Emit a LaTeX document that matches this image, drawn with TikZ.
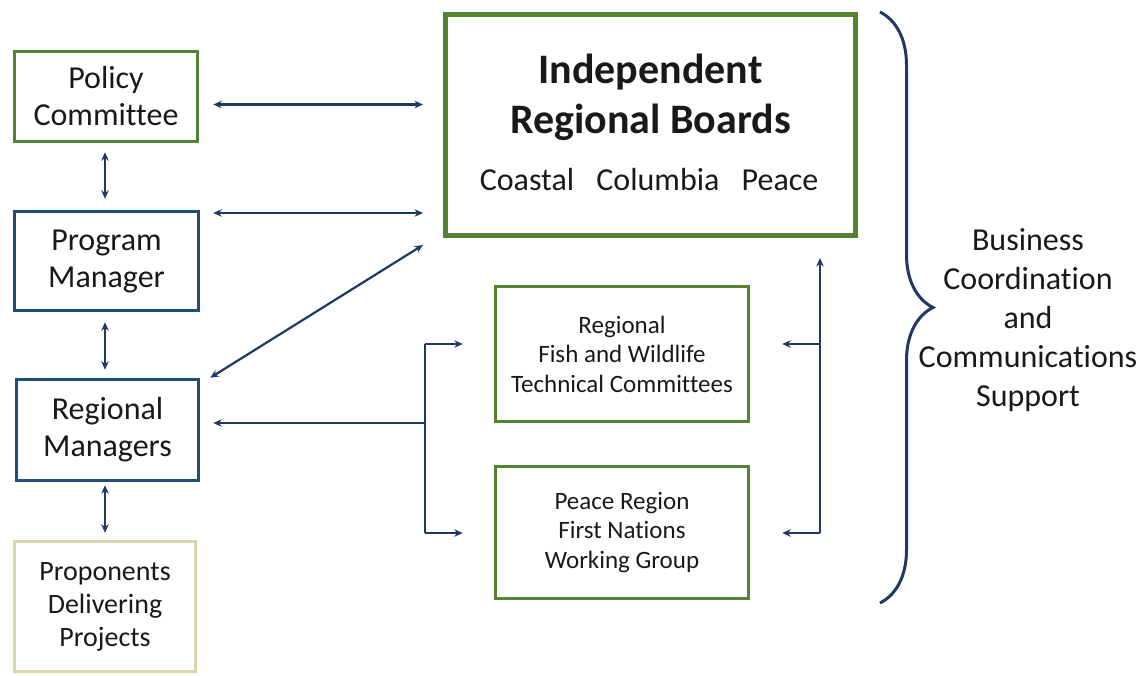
\documentclass[tikz,border=0pt]{standalone}
\usepackage{fontspec}
\setmainfont{Carlito}[Ligatures={NoCommon}]
\usetikzlibrary{arrows.meta,calc,decorations.pathreplacing}
\definecolor{boardgreen}{RGB}{84,130,53}
\definecolor{mgrblue}{RGB}{31,78,121}
\definecolor{linkblue}{RGB}{31,56,100}
\definecolor{khaki}{RGB}{218,215,172}
\begin{document}
\begin{tikzpicture}[x=1pt,y=-1pt,
  >={Stealth[length=8.5pt,width=7.5pt]},
  box/.style={draw, rectangle, align=center, inner sep=0pt, text=black!90},
  greenbox/.style={box, draw=boardgreen, line width=3.5pt},
  bluebox/.style={box, draw=mgrblue, line width=3.5pt},
  palebox/.style={box, draw=khaki, line width=3.5pt},
  bigtxt/.style={font=\fontsize{32}{37}\selectfont},
  midtxt/.style={font=\fontsize{28}{33}\selectfont},
  smalltxt/.style={font=\fontsize{25}{29.5}\selectfont},
  link/.style={draw=linkblue, line width=2.2pt},
]
\useasboundingbox (0,0) rectangle (1143,675);

% left column
\node[greenbox, bigtxt, minimum width=183, minimum height=90] (pc) at (106,96.5) {Policy\\Committee};
\node[bluebox, bigtxt, minimum width=184, minimum height=99] (pm) at (106.5,261) {Program\\Manager};
\node[bluebox, bigtxt, minimum width=182, minimum height=101] (rm) at (107.5,430) {Regional\\Managers};
\node[palebox, midtxt, minimum width=181, minimum height=130] (pp) at (105,606.5) {Proponents\\Delivering\\Projects};

% boards
\node[draw=boardgreen, line width=5pt, rectangle, minimum width=410, minimum height=221, inner sep=0pt] (irb) at (650.5,125) {};
\node[font=\fontsize{42}{50}\selectfont\bfseries, align=center, text=black!90] (irbt) at (650.5,97) {Independent\\Regional Boards};
\node[bigtxt, text=black!90] (c1) at (527,180) {Coastal};
\node[bigtxt, text=black!90] (c2) at (658,180) {Columbia};
\node[bigtxt, text=black!90] (c3) at (780,180) {Peace};

% committees
\node[greenbox, smalltxt, minimum width=253, minimum height=135] (fw) at (622,354) {Regional\\Fish and Wildlife\\Technical Committees};
\node[greenbox, smalltxt, minimum width=253, minimum height=132] (fn) at (622,532.5) {Peace Region\\First Nations\\Working Group};

% support brace and label
\coordinate (bt) at (880,12);
\coordinate (bb) at (880,603);
\draw[linkblue, line width=3pt, decorate, decoration={brace, amplitude=53pt}] (bt) -- (bb);
\node[align=center, text=black!90, font=\fontsize{32}{38.8}\selectfont] (bus) at (1028,320) {Business\\Coordination\\and\\Communications\\Support};

% left column links
\coordinate (a1) at ($(pc.east)+(14,8)$);
\draw[link, <->] (a1) -- ($(irb.west |- a1)+(-20,0)$);
\coordinate (a2) at ($(pm.east)+(13,-48)$);
\draw[link, <->] (a2) -- ($(irb.west |- a2)+(-20,0)$);
\draw[link, <->] ($(pc.south)+(-1,9)$) -- ($(pm.north)+(-1.5,-11)$);
\draw[link, <->] ($(pm.south)+(-1.5,10)$) -- ($(rm.north)+(-2.5,-8)$);
\draw[link, <->] ($(rm.south)+(-2.5,3)$) -- ($(pp.north)+(0,-7)$);
\draw[link, <->] ($(rm.north east)+(10,0)$) -- ($(irb.south west)+(-20,7)$);

% committee links, left side
\coordinate (j1) at (425,344);
\coordinate (j2) at (425,533);
\coordinate (j3) at (425,423);
\draw[link] (j1) -- (j2);
\draw[link, ->] (j1) -- ($(fw.west |- j1)+(-31,0)$);
\draw[link, ->] (j2) -- ($(fn.west |- j2)+(-31,0)$);
\draw[link, ->] (j3) -- ($(rm.east |- j3)+(13,0)$);

% committee links, right side
\coordinate (k1) at (820,344);
\coordinate (k2) at (820,533);
\draw[link, ->] (k2) -- ($(irb.south -| k2)+(0,20)$);
\draw[link, ->] (k1) -- ($(fw.east |- k1)+(32,0)$);
\draw[link, ->] (k2) -- ($(fn.east |- k2)+(32,0)$);
\end{tikzpicture}
\end{document}
